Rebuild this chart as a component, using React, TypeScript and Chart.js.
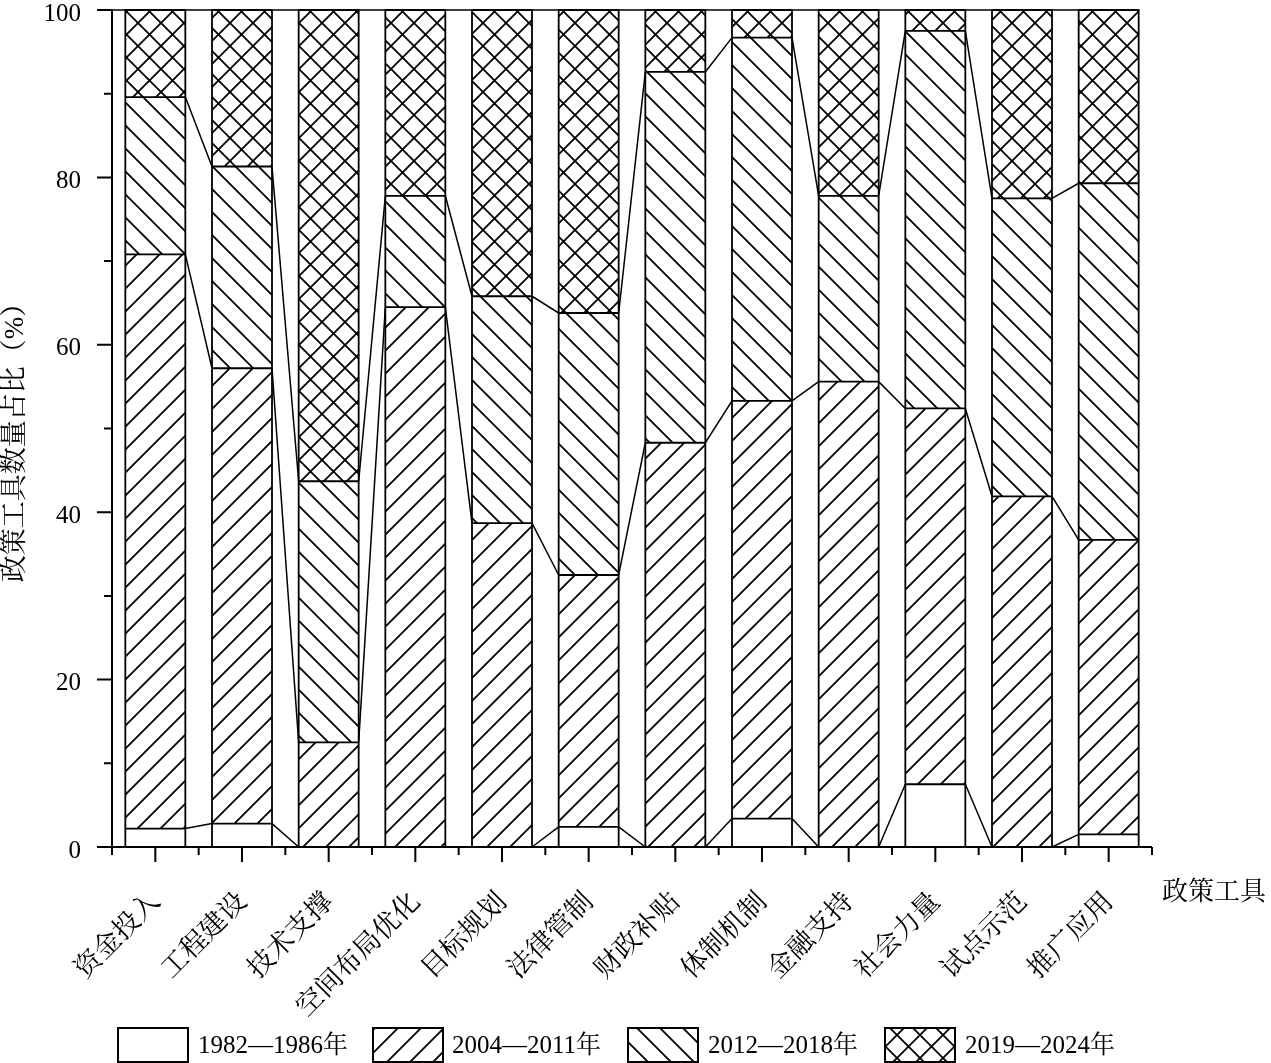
import React, { useEffect, useRef } from 'react';
import { Chart, registerables } from 'chart.js';

Chart.register(...registerables);

const categories = ['资金投入', '工程建设', '技术支撑', '空间布局优化', '目标规划', '法律管制', '财政补贴', '体制机制', '金融支持', '社会力量', '试点示范', '推广应用'];
const seriesLabels = ['1982—1986年', '2004—2011年', '2012—2018年', '2019—2024年'];
const s1982 = [2.2, 2.8, 0, 0, 0, 2.4, 0, 3.4, 0, 7.5, 0, 1.5];
const s2004 = [68.6, 54.4, 12.5, 64.5, 38.7, 30.1, 48.3, 49.9, 55.6, 44.9, 41.9, 35.2];
const s2012 = [18.8, 24.1, 31.2, 13.3, 27.1, 31.3, 44.3, 43.4, 22.2, 45.1, 35.6, 42.6];
const s2019 = [10.4, 18.7, 56.3, 22.2, 34.2, 36.2, 7.4, 3.3, 22.2, 2.5, 22.5, 20.7];
const yTicks = [0, 20, 40, 60, 80, 100];
const yMinorTicks = [10, 30, 50, 70, 90];
const yTitle = '政策工具数量占比（%）';
const xTitle = '政策工具';

const FONT = '"Liberation Serif", "Times New Roman", "Noto Serif CJK SC", "Noto Sans CJK SC", serif';
const P = 23;

function makePattern(kind: string): CanvasPattern | string {
  if (kind === 'none') return '#ffffff';
  const c = document.createElement('canvas');
  c.width = P;
  c.height = P;
  const g = c.getContext('2d')!;
  g.fillStyle = '#ffffff';
  g.fillRect(0, 0, P, P);
  g.strokeStyle = '#000000';
  g.lineWidth = 1.8;
  g.beginPath();
  if (kind === 'fwd' || kind === 'cross') {
    for (const cc of [0, P, 2 * P]) {
      g.moveTo(cc + 2, -2);
      g.lineTo(cc - P - 2, P + 2);
    }
  }
  if (kind === 'back' || kind === 'cross') {
    for (const cc of [-P, 0, P]) {
      g.moveTo(cc - 2, -2);
      g.lineTo(cc + P + 2, P + 2);
    }
  }
  g.stroke();
  const ctx = document.createElement('canvas').getContext('2d')!;
  return ctx.createPattern(c, 'repeat')!;
}

const patternKinds = ['none', 'fwd', 'back', 'cross'];

export default function App() {
  const ref = useRef<HTMLCanvasElement>(null);

  useEffect(() => {
    const canvas = ref.current!;
    const fills = patternKinds.map(makePattern);
    const series = [s1982, s2004, s2012, s2019];

    const overlay = {
      id: 'overlay',
      afterDatasetsDraw(chart: any) {
        const ctx = chart.ctx as CanvasRenderingContext2D;
        const ca = chart.chartArea;
        const ys = chart.scales.y;
        const y = (v: number) => ys.getPixelForValue(v);
        const meta = chart.getDatasetMeta(0);
        const bars = meta.data.map((el: any) => {
          const p = el.getProps(['x', 'width'], true);
          return { cx: p.x, l: p.x - p.width / 2, r: p.x + p.width / 2 };
        });
        const n = bars.length;
        const levels: number[][] = [];
        let acc = categories.map(() => 0);
        for (let k = 0; k < 3; k++) {
          acc = acc.map((a, i) => a + series[k][i]);
          levels.push(acc.slice());
        }
        ctx.save();
        ctx.strokeStyle = '#000';
        // bar outlines and segment boundaries
        ctx.lineWidth = 1.8;
        for (let i = 0; i < n; i++) {
          const b = bars[i];
          ctx.strokeRect(b.l, y(100), b.r - b.l, y(0) - y(100));
          ctx.beginPath();
          for (let k = 0; k < 3; k++) {
            const v = levels[k][i];
            if (v > 0.01 && v < 99.99) {
              ctx.moveTo(b.l, y(v));
              ctx.lineTo(b.r, y(v));
            }
          }
          ctx.stroke();
        }
        // connectors
        ctx.lineWidth = 1.5;
        ctx.beginPath();
        for (let i = 0; i < n - 1; i++) {
          for (let k = 0; k < 3; k++) {
            ctx.moveTo(bars[i].r, y(levels[k][i]));
            ctx.lineTo(bars[i + 1].l, y(levels[k][i + 1]));
          }
        }
        ctx.moveTo(ca.left, y(100));
        ctx.lineTo(bars[n - 1].r, y(100));
        ctx.stroke();

        // axes
        ctx.lineWidth = 2;
        ctx.beginPath();
        ctx.moveTo(ca.left, ca.top - 1);
        ctx.lineTo(ca.left, ca.bottom);
        ctx.moveTo(ca.left - 15, ca.bottom);
        ctx.lineTo(ca.right, ca.bottom);
        for (const t of yTicks) {
          ctx.moveTo(ca.left - 15, y(t));
          ctx.lineTo(ca.left, y(t));
        }
        for (const t of yMinorTicks) {
          ctx.moveTo(ca.left - 8, y(t));
          ctx.lineTo(ca.left, y(t));
        }
        for (let i = 0; i < n; i++) {
          ctx.moveTo(bars[i].cx, ca.bottom);
          ctx.lineTo(bars[i].cx, ca.bottom + 15);
        }
        for (let i = 0; i <= n; i++) {
          let bx;
          if (i === 0) bx = ca.left;
          else if (i === n) bx = ca.right;
          else bx = (bars[i - 1].cx + bars[i].cx) / 2;
          ctx.moveTo(bx, ca.bottom);
          ctx.lineTo(bx, ca.bottom + 8);
        }
        ctx.stroke();

        // y tick labels
        ctx.fillStyle = '#000';
        ctx.font = `25px ${FONT}`;
        ctx.textAlign = 'right';
        ctx.textBaseline = 'middle';
        for (const t of yTicks) {
          ctx.fillText(String(t), ca.left - 31, y(t) + 4);
        }
        // x labels rotated
        ctx.font = `27px ${FONT}`;
        ctx.textAlign = 'right';
        ctx.textBaseline = 'middle';
        for (let i = 0; i < n; i++) {
          ctx.save();
          ctx.translate(bars[i].cx + 1, ca.bottom + 51);
          ctx.rotate(-Math.PI / 4);
          ctx.fillText(categories[i], 0, 0);
          ctx.restore();
        }
        // axis titles
        ctx.save();
        ctx.font = `27px ${FONT}`;
        ctx.textAlign = 'center';
        ctx.translate(16, 436);
        ctx.rotate(-Math.PI / 2);
        ctx.fillText(yTitle, 0, 0);
        ctx.restore();
        ctx.font = `26px ${FONT}`;
        ctx.textAlign = 'left';
        ctx.fillText(xTitle, 1162, 893);

        // legend
        const boxX = [118, 373, 628, 885];
        const textX = [198, 452, 708, 965];
        const by = 1028;
        const bh = 34;
        const bw = 70;
        ctx.font = `25px ${FONT}`;
        ctx.textAlign = 'left';
        ctx.textBaseline = 'middle';
        ctx.lineWidth = 2;
        for (let k = 0; k < 4; k++) {
          ctx.fillStyle = fills[k] as any;
          ctx.fillRect(boxX[k], by, bw, bh);
          ctx.strokeRect(boxX[k], by, bw, bh);
          ctx.fillStyle = '#000';
          ctx.fillText(seriesLabels[k], textX[k], by + bh / 2 + 1);
        }
        ctx.restore();
      },
    };

    const chart = new Chart(canvas, {
      type: 'bar',
      data: {
        labels: categories,
        datasets: series.map((d, k) => ({
          label: seriesLabels[k],
          data: d,
          backgroundColor: fills[k] as any,
          borderWidth: 0,
          barPercentage: 0.6923,
          categoryPercentage: 1,
        })),
      },
      options: {
        responsive: false,
        animation: false,
        events: [],
        layout: { padding: { left: 112, right: 119, top: 10, bottom: 216 } },
        plugins: { legend: { display: false }, tooltip: { enabled: false } },
        scales: {
          x: { stacked: true, display: false, offset: true },
          y: { stacked: true, display: false, min: 0, max: 100 },
        },
      },
      plugins: [overlay],
    } as any);
    return () => chart.destroy();
  }, []);

  return (
    <div style={{ position: 'fixed', left: 0, top: 0, width: 1271, height: 1063, background: '#fff' }}>
      <canvas ref={ref} width={1271} height={1063} style={{ display: 'block' }} />
    </div>
  );
}
